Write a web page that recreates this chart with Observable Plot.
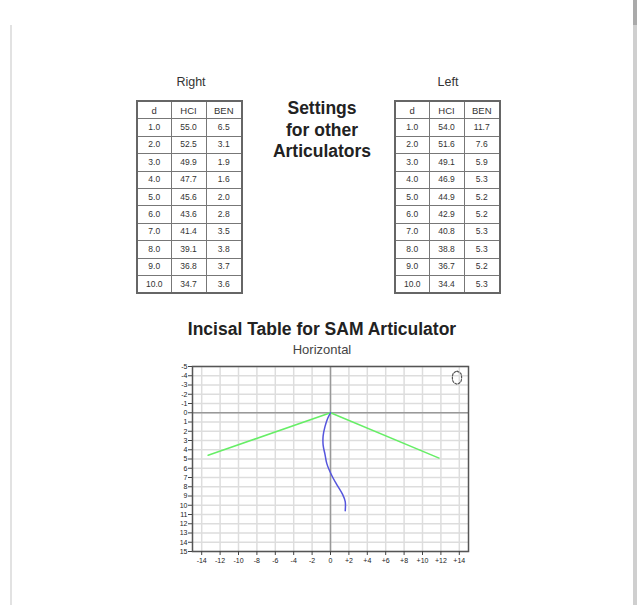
<!DOCTYPE html>
<html>
<head>
<meta charset="utf-8">
<script src="https://cdn.jsdelivr.net/npm/d3@7"></script>
<script src="https://cdn.jsdelivr.net/npm/@observablehq/plot@0.6"></script>
<style>
  html, body { margin: 0; padding: 0; background: #fff; }
  body { width: 640px; height: 605px; position: relative; overflow: hidden; font-family: "Liberation Sans", Arial, sans-serif; color: #333; }
  .abs { position: absolute; }
  .lbl { font-size: 12.5px; color: #333; text-align: center; width: 80px; }
  table.t { position: absolute; border-collapse: collapse; border: 2px solid #666; font-size: 8.5px; color: #333; table-layout: fixed; }
  table.t td { border: 1px solid #777; text-align: center; padding: 0; height: 16.4px; line-height: 15px; }
  #settings { left: 232px; top: 98px; width: 180px; text-align: center; font-weight: bold; font-size: 17.5px; line-height: 21.5px; color: #222; }
  #title { left: 110px; top: 319px; width: 424px; text-align: center; font-weight: bold; font-size: 17.5px; color: #222; }
  #subtitle { left: 222px; top: 342px; width: 200px; text-align: center; font-size: 13px; color: #444; }
  #chart { left: 160px; top: 356px; }
  #lborder { left: 10px; top: 25px; width: 2px; height: 580px; background: #e2e2e2; }
  #rborder { left: 633px; top: 0px; width: 4px; height: 605px; background: #cfcfcf; }
  #rborderTop { left: 633px; top: 0px; width: 4px; height: 25px; background: #aaa; }
</style>
</head>
<body>
<div id="lborder" class="abs"></div>
<div id="rborder" class="abs"></div>
<div id="rborderTop" class="abs"></div>

<div class="abs lbl" style="left:151px; top:75px;">Right</div>
<div class="abs lbl" style="left:408px; top:75px;">Left</div>
<div id="settings" class="abs">Settings<br>for other<br>Articulators</div>
<div id="title" class="abs">Incisal Table for SAM Articulator</div>
<div id="subtitle" class="abs">Horizontal</div>
<div id="chart" class="abs"></div>

<script>
// ---- Table data ----
const tableHeaders = ["d", "HCI", "BEN"];
const rightD   = ["1.0","2.0","3.0","4.0","5.0","6.0","7.0","8.0","9.0","10.0"];
const rightHCI = ["55.0","52.5","49.9","47.7","45.6","43.6","41.4","39.1","36.8","34.7"];
const rightBEN = ["6.5","3.1","1.9","1.6","2.0","2.8","3.5","3.8","3.7","3.6"];
const leftD    = ["1.0","2.0","3.0","4.0","5.0","6.0","7.0","8.0","9.0","10.0"];
const leftHCI  = ["54.0","51.6","49.1","46.9","44.9","42.9","40.8","38.8","36.7","34.4"];
const leftBEN  = ["11.7","7.6","5.9","5.3","5.2","5.2","5.3","5.3","5.2","5.3"];

// ---- Chart data ----
const xTicks = [-14,-12,-10,-8,-6,-4,-2,0,2,4,6,8,10,12,14];
const xTickLabels = ["-14","-12","-10","-8","-6","-4","-2","0","+2","+4","+6","+8","+10","+12","+14"];
const yTicks = [-5,-4,-3,-2,-1,0,1,2,3,4,5,6,7,8,9,10,11,12,13,14,15];
const yGrid = yTicks;
const greenX = [-13.3, 0, 11.8];
const greenY = [4.6, 0, 4.9];
const blueX = [0, -0.3, -0.6, -0.8, -0.8, -0.6, -0.4, 0.1, 0.7, 1.3, 1.6, 1.6];
const blueY = [0, 0.6, 1.5, 2.5, 3.5, 4.5, 5.5, 6.7, 7.8, 8.8, 9.6, 10.6];
const iconX = [13.75, 14.15, 14.25, 14.15, 13.75, 13.35, 13.25, 13.35, 13.75];
const iconY = [-4.5, -4.25, -3.8, -3.35, -3.1, -3.35, -3.8, -4.25, -4.5];

function buildTable(left, top, d, hci, ben) {
  const t = document.createElement("table");
  t.className = "t";
  t.style.left = left + "px";
  t.style.top = top + "px";
  t.style.width = "105px";
  const cg = document.createElement("colgroup");
  [34, 35, 36].forEach(w => { const c = document.createElement("col"); c.style.width = w + "px"; cg.appendChild(c); });
  t.appendChild(cg);
  const rows = [tableHeaders].concat(d.map((v, i) => [v, hci[i], ben[i]]));
  rows.forEach((r, ri) => {
    const tr = document.createElement("tr");
    r.forEach(v => {
      const td = document.createElement("td");
      td.textContent = v;
      if (ri === 0) td.style.fontSize = "9.5px";
      tr.appendChild(td);
    });
    t.appendChild(tr);
  });
  document.body.appendChild(t);
}
buildTable(136, 100, rightD, rightHCI, rightBEN);
buildTable(394, 100, leftD, leftHCI, leftBEN);

const green = greenX.map((x, i) => ({x, y: greenY[i]}));
const blue = blueX.map((x, i) => ({x, y: blueY[i]}));
const icon = iconX.map((x, i) => ({x, y: iconY[i]}));
const xGrid = xTicks;

const chart = Plot.plot({
  width: 320,
  height: 219,
  marginLeft: 32,
  marginRight: 12,
  marginTop: 10,
  marginBottom: 24,
  style: { fontFamily: "Liberation Sans, Arial, sans-serif", fontSize: "7px", color: "#222", background: "transparent" },
  x: { domain: [-15, 15] },
  y: { domain: [-5, 15], reverse: true },
  marks: [
    Plot.ruleX(xGrid, { stroke: "#ddd", strokeWidth: 1.5 }),
    Plot.ruleY(yGrid, { stroke: "#ddd", strokeWidth: 1.5 }),
    Plot.ruleX([0], { stroke: "#999", strokeWidth: 1.5 }),
    Plot.ruleY([0], { stroke: "#999", strokeWidth: 1.5 }),
    Plot.frame({ stroke: "#555", strokeWidth: 1.5 }),
    Plot.line(green, { x: "x", y: "y", stroke: "#66ee66", strokeWidth: 1.5 }),
    Plot.line(blue, { x: "x", y: "y", stroke: "#5555dd", strokeWidth: 1.5, curve: "catmull-rom" }),
    Plot.line(icon, { x: "x", y: "y", stroke: "#555", strokeWidth: 1.2, strokeDasharray: "2,1.5", curve: "catmull-rom" }),
    Plot.axisX({ ticks: xTicks, tickFormat: (d) => xTickLabels[xTicks.indexOf(d)], tickSize: 4, tickPadding: 3, stroke: "#444", label: null }),
    Plot.axisY({ ticks: yTicks, tickFormat: (d) => String(d), tickSize: 4, tickPadding: 1, stroke: "#444", label: null })
  ]
});
document.getElementById("chart").appendChild(chart);
</script>
</body>
</html>
